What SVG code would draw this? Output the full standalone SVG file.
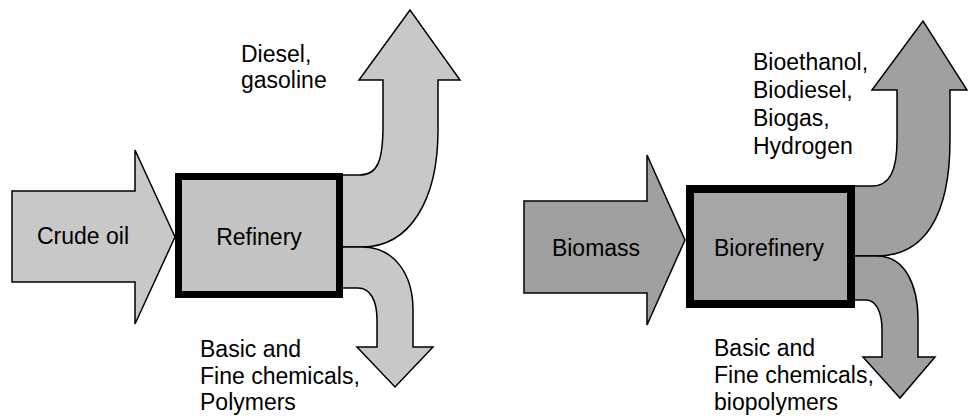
<svg xmlns="http://www.w3.org/2000/svg" width="968" height="420" viewBox="0 0 968 420">
<style>
.light{fill:#c8c8c8;stroke:#000;stroke-width:1.5;stroke-linejoin:miter}
.dark{fill:#a0a0a0;stroke:#000;stroke-width:1.5;stroke-linejoin:miter}
.box1{fill:#c4c4c4;stroke:#000;stroke-width:7}
.box2{fill:#a6a6a6;stroke:#000;stroke-width:8}
text{font-family:"Liberation Sans",Arial,sans-serif;font-size:23px;fill:#000}
.c{text-anchor:middle}
</style>
<rect width="968" height="420" fill="#fff"/>
<g id="connectors">
  <path class="light" d="M330,175 L360,175 C378,175 383,160 383,125 L383,80 L359,80 L410,10 L460,80 L438,80 L438,130 C438,200 410,247 362,247 L330,247 Z"/>
  <path class="light" d="M330,247 L362,247 C395,247 413,275 413,310 L413,347 L433,347 L395,387 L357,347 L377,347 L377,320 C377,300 370,288 358,288 L330,288 Z"/>
  <path class="dark" d="M845,186 L872,186 C890,186 897,170 897,140 L897,90 L872,90 L923,21 L967,90 L950,90 L950,140 C950,215 925,256 877,256 L845,256 Z"/>
  <path class="dark" d="M845,256 L877,256 C905,256 918,285 918,320 L918,357 L935,357 L900,398 L863,357 L882,357 L882,330 C882,312 876,300 866,300 L845,300 Z"/>
</g>
<g id="crude-oil">
  <path class="light" d="M12,191 L135,191 L135,150 L175,237 L135,324 L135,282 L12,282 Z"/>
  <text class="c" x="83" y="244">Crude oil</text>
</g>
<g id="refinery">
  <rect class="box1" x="178.5" y="176.5" width="161" height="118"/>
  <text class="c" x="259" y="245">Refinery</text>
</g>
<g id="biomass">
  <path class="dark" d="M524,201 L647,201 L647,155 L685,240 L647,325 L647,293 L524,293 Z"/>
  <text class="c" x="596" y="256">Biomass</text>
</g>
<g id="biorefinery">
  <rect class="box2" x="690" y="189" width="161" height="115"/>
  <text class="c" x="769" y="256">Biorefinery</text>
</g>
<g id="label-fuels">
  <text x="241" y="62">Diesel,</text>
  <text x="241" y="88">gasoline</text>
</g>
<g id="label-chemicals">
  <text x="200" y="357">Basic and</text>
  <text x="200" y="383.5">Fine chemicals,</text>
  <text x="200" y="410">Polymers</text>
</g>
<g id="label-biofuels">
  <text x="753" y="70">Bioethanol,</text>
  <text x="753" y="98">Biodiesel,</text>
  <text x="753" y="126">Biogas,</text>
  <text x="753" y="154">Hydrogen</text>
</g>
<g id="label-biochemicals">
  <text x="714" y="356">Basic and</text>
  <text x="714" y="383">Fine chemicals,</text>
  <text x="714" y="410">biopolymers</text>
</g>
</svg>
